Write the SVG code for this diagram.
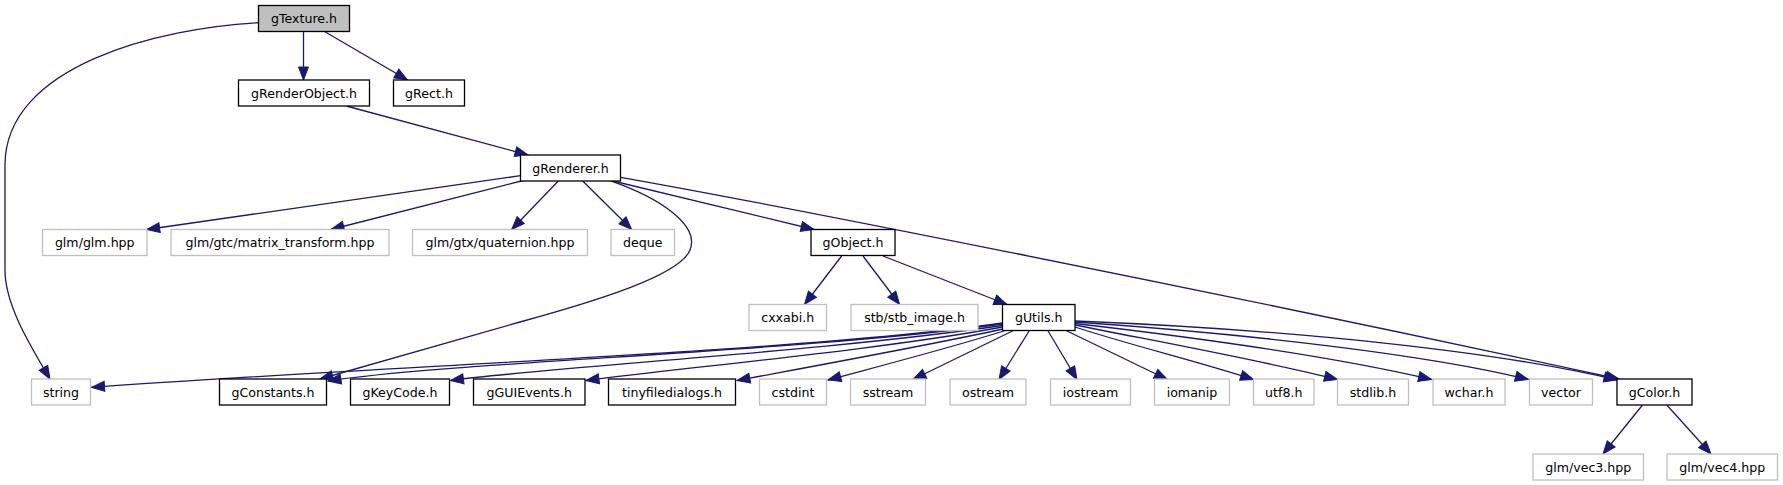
<svg xmlns="http://www.w3.org/2000/svg" width="1783" height="485" viewBox="0 0 1783 485">
<style>
.b{fill:#fff;stroke:#000;stroke-width:1.3}
.r{fill:#bfbfbf;stroke:#000;stroke-width:1.3}
.s{fill:#fff;stroke:#bfbfbf;stroke-width:1.3}
text{font-family:"DejaVu Sans","Liberation Sans",sans-serif;font-size:12.6px;fill:#000;text-anchor:middle}
.e path{fill:none;stroke:#191970;stroke-width:1.3;marker-end:url(#ah)}
</style>
<defs>
<marker id="ah" markerUnits="userSpaceOnUse" markerWidth="14" markerHeight="11" refX="13" refY="5" orient="auto" overflow="visible">
<path d="M0,0 L13,5 L0,10 z" fill="#191970" stroke="#191970" stroke-width="1"/>
</marker>
</defs>
<rect width="1783" height="485" fill="#fff"/>
<g id="edges" class="e">
<path d="M303.5,31.5 L303.5,80"/>
<path d="M324.5,31.5 L407.5,80"/>
<path d="M258.5,22.7 C160,28 5,65 5,165 L5,270 C5,305 30,345 50,379"/>
<path d="M346.3,106 L528,155"/>
<path d="M520.5,175.7 L146.7,229.5"/>
<path d="M523.3,180.5 L331,229.5"/>
<path d="M558.3,181 L511.7,229.5"/>
<path d="M582.7,181 L631.7,229.5"/>
<path d="M613,181 L814,229.5"/>
<path d="M610,180.7 C660,198 700,225 690,250 C680,275 600,300 520,322 C420,350 360,368 320,379"/>
<path d="M620.6,177.3 C760,202 1150,278 1619,379"/>
<path d="M841.6,256 L804.5,304.5"/>
<path d="M863,256 L899.6,304.5"/>
<path d="M883,256 L1007,304.5"/>
<path d="M1002.5,323 C800,352 400,365 91.5,387.3"/>
<path d="M1002.5,324 C800,352 450,362 328,381"/>
<path d="M1002.5,325.5 C820,352 560,366 450.5,380.5"/>
<path d="M1002.5,327 C880,350 680,368 586,380.5"/>
<path d="M1003,329 C930,345 820,365 737,380.5"/>
<path d="M1007,330 C950,348 880,366 828,380"/>
<path d="M1014.5,330 L913,379.5"/>
<path d="M1029.7,330 L999,379.5"/>
<path d="M1047.5,330 L1077,379.5"/>
<path d="M1065,330 L1167.3,379.5"/>
<path d="M1075,327 C1130,345 1200,362 1253.5,379.5"/>
<path d="M1075,325 C1160,342 1260,360 1337.4,379.5"/>
<path d="M1075,323.5 C1200,338 1340,358 1431.5,379.5"/>
<path d="M1075,322 C1250,334 1430,355 1528.3,379.5"/>
<path d="M1075,321 C1300,330 1500,352 1617,380"/>
<path d="M1642.5,405 L1603,454"/>
<path d="M1666.8,405 L1711,454"/>
</g>
<g id="gTexture"><rect class="r" x="258.5" y="5.5" width="91" height="26"/><text x="304" y="23">gTexture.h</text></g>
<g id="gRenderObject"><rect class="b" x="238.5" y="80" width="131" height="26"/><text x="304" y="97.5">gRenderObject.h</text></g>
<g id="gRect"><rect class="b" x="393.5" y="80" width="71" height="26"/><text x="429" y="97.5">gRect.h</text></g>
<g id="gRenderer"><rect class="b" x="520.5" y="155" width="100" height="26"/><text x="570.5" y="172.5">gRenderer.h</text></g>
<g id="glm_glm"><rect class="s" x="42.5" y="229.5" width="104.5" height="26"/><text x="94.75" y="247">glm/glm.hpp</text></g>
<g id="glm_matrix"><rect class="s" x="171" y="229.5" width="218" height="26"/><text x="280" y="247">glm/gtc/matrix_transform.hpp</text></g>
<g id="glm_quat"><rect class="s" x="412.5" y="229.5" width="175" height="26"/><text x="500" y="247">glm/gtx/quaternion.hpp</text></g>
<g id="deque"><rect class="s" x="611" y="229.5" width="63.5" height="26"/><text x="642.75" y="247">deque</text></g>
<g id="gObject"><rect class="b" x="811" y="229.5" width="84" height="26"/><text x="853" y="247">gObject.h</text></g>
<g id="cxxabi"><rect class="s" x="749" y="304.5" width="77.5" height="26"/><text x="787.75" y="322">cxxabi.h</text></g>
<g id="stb_image"><rect class="s" x="851" y="304.5" width="127" height="26"/><text x="914.5" y="322">stb/stb_image.h</text></g>
<g id="gUtils"><rect class="b" x="1002.5" y="304.5" width="72.5" height="26"/><text x="1038.75" y="322">gUtils.h</text></g>
<g id="string"><rect class="s" x="31.5" y="379" width="59" height="26"/><text x="61" y="396.5">string</text></g>
<g id="gConstants"><rect class="b" x="219.5" y="379" width="107" height="26"/><text x="273" y="396.5">gConstants.h</text></g>
<g id="gKeyCode"><rect class="b" x="350.5" y="379" width="99" height="26"/><text x="400" y="396.5">gKeyCode.h</text></g>
<g id="gGUIEvents"><rect class="b" x="473.5" y="379" width="111.5" height="26"/><text x="529.25" y="396.5">gGUIEvents.h</text></g>
<g id="tinyfiledialogs"><rect class="b" x="608.5" y="379" width="127" height="26"/><text x="672" y="396.5">tinyfiledialogs.h</text></g>
<g id="cstdint"><rect class="s" x="759.5" y="379" width="67" height="26"/><text x="793" y="396.5">cstdint</text></g>
<g id="sstream"><rect class="s" x="850.5" y="379" width="75" height="26"/><text x="888" y="396.5">sstream</text></g>
<g id="ostream"><rect class="s" x="950" y="379" width="76" height="26"/><text x="988" y="396.5">ostream</text></g>
<g id="iostream"><rect class="s" x="1050.5" y="379" width="80" height="26"/><text x="1090.5" y="396.5">iostream</text></g>
<g id="iomanip"><rect class="s" x="1154.5" y="379" width="75" height="26"/><text x="1192" y="396.5">iomanip</text></g>
<g id="utf8"><rect class="s" x="1253.5" y="379" width="60.5" height="26"/><text x="1283.75" y="396.5">utf8.h</text></g>
<g id="stdlib"><rect class="s" x="1337.5" y="379" width="71" height="26"/><text x="1373" y="396.5">stdlib.h</text></g>
<g id="wchar"><rect class="s" x="1433" y="379" width="72" height="26"/><text x="1469" y="396.5">wchar.h</text></g>
<g id="vector"><rect class="s" x="1529.5" y="379" width="63" height="26"/><text x="1561" y="396.5">vector</text></g>
<g id="gColor"><rect class="b" x="1617" y="379" width="75" height="26"/><text x="1654.5" y="396.5">gColor.h</text></g>
<g id="glm_vec3"><rect class="s" x="1533" y="454" width="110.5" height="26"/><text x="1588.25" y="471.5">glm/vec3.hpp</text></g>
<g id="glm_vec4"><rect class="s" x="1667" y="454" width="110.5" height="26"/><text x="1722.25" y="471.5">glm/vec4.hpp</text></g>
</svg>
